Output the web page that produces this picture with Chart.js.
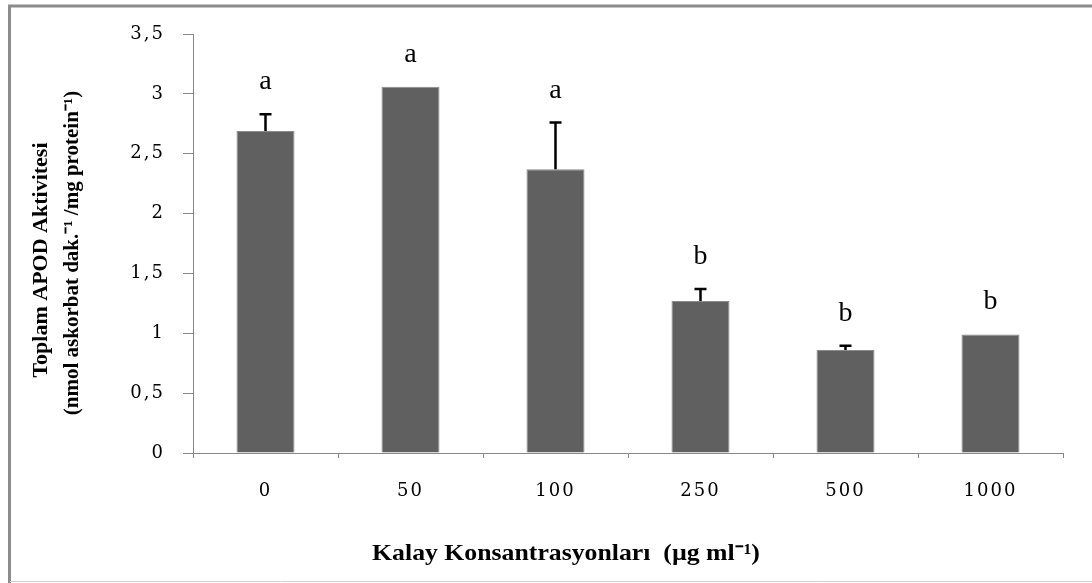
<!DOCTYPE html>
<html>
<head>
  <title>Toplam APOD Aktivitesi</title>
  <script src="https://cdn.jsdelivr.net/npm/chart.js"></script>
  <style>
    body { margin: 0; background: #fff; }
  </style>
</head>
<body>
  <canvas id="grafik" width="1092" height="583"></canvas>

  <script>
    // Kalay konsantrasyonlari (ug/ml)
    var kategoriler = ['0', '50', '100', '250', '500', '1000'];
    var apodDegerleri = [2.69, 3.06, 2.37, 1.27, 0.86, 0.99];
    var hatalar = [0.14, 0, 0.39, 0.10, 0.035, 0];
    var harfler = ['a', 'a', 'a', 'b', 'b', 'b'];
    var yBaslik = ['Toplam APOD Aktivitesi', '(nmol askorbat dak.\u207B\u00B9 /mg protein\u207B\u00B9)'];
    var xBaslik = 'Kalay Konsantrasyonlar\u0131  (\u00B5g ml\u207B\u00B9)';

    var serif = '"Liberation Serif", "Times New Roman", serif';
    var rakamFont = '"DejaVu Serif", serif';

    var ekler = {
      id: 'ekler',
      beforeDraw: function(chart) {
        var ctx = chart.ctx;
        ctx.save();
        ctx.fillStyle = '#fff';
        ctx.fillRect(0, 0, chart.width, chart.height);
        // cerceve
        ctx.strokeStyle = '#8c8c8c';
        ctx.lineWidth = 3;
        ctx.beginPath();
        ctx.moveTo(9.5, 583);
        ctx.lineTo(9.5, 6);
        ctx.lineTo(1092, 6);
        ctx.stroke();
        ctx.strokeStyle = '#d0d0d0';
        ctx.lineWidth = 1;
        ctx.beginPath();
        ctx.moveTo(10, 581.5);
        ctx.lineTo(1092, 581.5);
        ctx.stroke();
        ctx.restore();
        // eksen rakamlari resimde genis duruyor
        ctx.letterSpacing = '2px';
      },
      afterDatasetsDraw: function(chart) {
        var ctx = chart.ctx;
        var x = chart.scales.x, y = chart.scales.y;
        ctx.letterSpacing = '0px';
        ctx.save();
        // hata cubuklari
        ctx.strokeStyle = '#000';
        ctx.lineWidth = 2.5;
        for (var i = 0; i < apodDegerleri.length; i++) {
          if (!hatalar[i]) continue;
          var cx = x.getPixelForValue(i);
          var y0 = y.getPixelForValue(apodDegerleri[i]);
          var y1 = y.getPixelForValue(apodDegerleri[i] + hatalar[i]);
          ctx.beginPath();
          ctx.moveTo(cx, y0);
          ctx.lineTo(cx, y1);
          ctx.moveTo(cx - 6, y1);
          ctx.lineTo(cx + 6, y1);
          ctx.stroke();
        }
        // harfler
        ctx.fillStyle = '#000';
        ctx.font = '28px ' + serif;
        ctx.textAlign = 'center';
        ctx.textBaseline = 'alphabetic';
        for (var j = 0; j < harfler.length; j++) {
          var ust = y.getPixelForValue(apodDegerleri[j] + hatalar[j]);
          ctx.fillText(harfler[j], x.getPixelForValue(j), ust - 25);
        }
        // x baslik
        ctx.save();
        ctx.letterSpacing = '0px';
        ctx.font = 'bold 23px ' + serif;
        ctx.translate(566, 560);
        ctx.scale(1.12, 1);
        ctx.fillText(xBaslik, 0, 0);
        ctx.restore();
        // y baslik
        ctx.save();
        ctx.letterSpacing = '0px';
        ctx.translate(47, 260);
        ctx.rotate(-Math.PI / 2);
        ctx.font = 'bold 22px ' + serif;
        ctx.fillText(yBaslik[0], 0, 0);
        ctx.font = 'bold 21px ' + serif;
        ctx.fillText(yBaslik[1], 7, 31);
        ctx.restore();
        ctx.restore();
      }
    };

    var ctx = document.getElementById('grafik').getContext('2d');
    new Chart(ctx, {
      type: 'bar',
      data: {
        labels: kategoriler,
        datasets: [{
          data: apodDegerleri,
          backgroundColor: '#606060',
          borderColor: '#8a8a8a',
          borderWidth: 1,
          barPercentage: 0.4,
          categoryPercentage: 1
        }]
      },
      options: {
        responsive: false,
        animation: false,
        layout: { padding: { left: 0, top: 34, right: 29, bottom: 0 } },
        plugins: {
          legend: { display: false },
          tooltip: { enabled: false }
        },
        scales: {
          x: {
            afterFit: function(s) { s.height = 130; },
            grid: { offset: true, drawOnChartArea: false, drawTicks: true, tickLength: 5, color: '#888' },
            border: { display: true, color: '#888', width: 1 },
            ticks: { color: '#000', font: { family: rakamFont, size: 18 }, padding: 23 }
          },
          y: {
            min: 0,
            max: 3.5,
            afterFit: function(s) { s.width = 193; },
            grid: { drawOnChartArea: false, drawTicks: true, tickLength: 10, color: '#888' },
            border: { display: true, color: '#888', width: 1 },
            ticks: {
              stepSize: 0.5,
              color: '#000',
              padding: 18,
              font: { family: rakamFont, size: 18 },
              callback: function(v) { return String(v).replace('.', ','); }
            }
          }
        }
      },
      plugins: [ekler]
    });
  </script>
</body>
</html>
